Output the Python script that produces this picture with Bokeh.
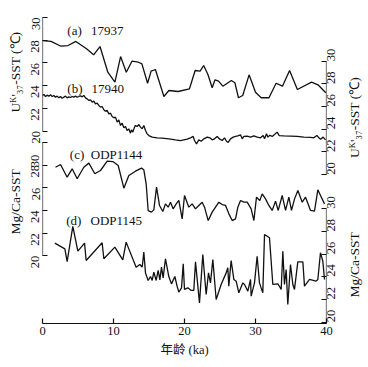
import math
from bokeh.plotting import figure
from bokeh.models import Range1d, LinearAxis, FixedTicker, Label, Whisker, ColumnDataSource
from bokeh.embed import file_html
from bokeh.resources import INLINE

# ---------------- data ----------------
AGE_A = [0.0, 1.2, 2.6, 3.6, 4.7, 6.2, 7.2, 8.1, 9.2, 10.2, 11.0, 11.8, 12.6, 13.5, 14.0,
         14.8, 15.3, 15.9, 17.1, 17.8, 19.1, 20.7, 21.5, 22.2, 22.7, 23.3, 23.9, 24.3, 24.8,
         25.4, 26.6, 27.1, 27.6, 28.2, 29.1, 30.0, 30.8, 31.9, 32.9, 33.8, 34.8, 35.9, 37.9,
         38.8, 39.9]
SST_A = [27.97, 27.9, 27.47, 27.53, 27.89, 27.24, 26.71, 27.44, 25.18, 24.3, 26.56, 25.18,
         26.15, 26.06, 25.92, 24.21, 25.27, 25.42, 23.04, 23.57, 23.48, 23.72, 25.33, 25.27,
         25.77, 24.98, 23.81, 24.51, 24.39, 23.95, 24.45, 24.25, 22.93, 23.13, 24.95, 23.42,
         22.93, 22.93, 24.21, 23.95, 25.33, 23.66, 24.3, 24.07, 23.37]

AGE_B = [0.0, 0.19, 0.42, 0.66, 0.89, 1.13, 1.36, 1.6, 1.83, 2.07, 2.3, 2.54, 2.77, 3.0, 3.24,
         3.47, 3.71, 3.94, 4.18, 4.41, 4.65, 4.88, 5.12, 5.35, 5.59, 5.82, 6.06, 6.29, 6.53,
         6.76, 6.99, 7.23, 7.46, 7.7, 7.93, 8.17, 8.4, 8.64, 8.87, 9.11, 9.34, 9.58, 9.81,
         10.05, 10.28, 10.52, 10.75, 10.99, 11.22, 11.46, 11.69, 11.92, 12.16, 12.39, 12.53,
         12.72, 12.96, 13.1, 13.33, 13.57, 13.8, 14.04, 14.27, 14.51, 14.74, 14.98, 15.45,
         16.15, 16.85, 17.79, 18.73, 19.44, 19.91, 20.38, 20.85, 21.22, 21.41, 21.69, 22.02,
         22.35, 22.73, 23.2, 23.57, 23.9, 24.23, 24.6, 24.98, 25.31, 25.64, 25.92, 26.15,
         26.48, 26.86, 27.19, 27.51, 27.89, 28.13, 28.36, 28.83, 29.3, 29.77, 30.24, 30.71,
         31.08, 31.27, 31.55, 31.74, 32.02, 32.35, 32.68, 33.05, 33.34, 33.99, 34.93, 35.87,
         36.81, 37.75, 38.22, 38.45, 38.69, 38.92, 39.16, 39.53, 39.86]
SST_B = [26.98, 27.07, 26.89, 27.01, 26.92, 27.04, 26.89, 26.98, 26.83, 26.92, 26.77, 26.89,
         26.74, 26.83, 26.92, 26.77, 26.86, 26.8, 26.89, 26.83, 26.92, 26.83, 26.89, 26.95,
         26.86, 26.98, 26.77, 26.68, 26.54, 26.6, 26.39, 26.48, 26.24, 26.3, 26.1, 25.95,
         26.01, 25.72, 25.6, 25.66, 25.36, 25.42, 25.13, 25.01, 25.07, 24.63, 24.83, 24.34,
         24.54, 24.13, 24.25, 23.89, 24.04, 23.66, 23.95, 23.75, 24.19, 24.34, 24.25, 24.42,
         24.19, 24.04, 24.34, 23.89, 23.6, 23.45, 23.31, 23.25, 23.22, 23.16, 23.07, 23.01,
         23.07, 23.13, 23.25, 23.37, 23.01, 22.72, 23.07, 22.95, 23.16, 23.31, 23.25, 23.07,
         23.16, 23.37, 23.13, 23.01, 23.25, 22.95, 22.84, 23.16, 23.31, 23.37, 23.42, 23.51,
         23.16, 23.37, 23.4, 23.31, 23.42, 23.31, 23.25, 23.45, 23.16, 23.6, 23.31, 23.48,
         23.37, 23.54, 23.75, 23.45, 23.42, 23.4, 23.37, 23.31, 23.28, 23.25, 23.37, 23.45,
         23.25, 23.13, 23.31, 23.07]

AGE_C = [1.83, 2.54, 3.47, 4.18, 4.88, 5.82, 6.53, 7.37, 8.17, 9.11, 9.91, 10.66, 11.46,
         12.16, 13.1, 13.94, 14.27, 14.6, 14.88, 15.35, 15.68, 16.06, 16.48, 16.95, 17.32,
         17.7, 18.03, 18.4, 18.83, 19.2, 19.67, 20.0, 20.61, 21.08, 21.55, 22.02, 22.49,
         22.82, 23.34, 23.9, 24.37, 24.84, 25.31, 25.78, 26.25, 26.72, 27.19, 27.51, 27.89,
         28.36, 28.83, 29.39, 29.77, 30.14, 30.61, 30.94, 31.41, 31.88, 32.35, 32.82, 33.2,
         33.76, 34.23, 34.7, 35.07, 35.5, 35.97, 36.58, 37.05, 37.75, 38.31, 38.78, 39.16,
         39.72]
SST_C = [27.81, 28.05, 26.93, 27.67, 26.79, 27.81, 28.17, 27.23, 27.52, 28.34, 28.31, 27.96,
         25.96, 27.08, 27.46, 27.73, 27.58, 26.35, 23.99, 23.85, 24.05, 26.05, 24.44, 23.91,
         24.58, 24.29, 24.73, 24.14, 24.58, 24.88, 23.26, 25.32, 24.29, 24.58, 24.14, 24.44,
         24.73, 24.29, 23.11, 23.85, 24.29, 24.73, 24.52, 24.44, 23.7, 23.11, 23.26, 24.29,
         24.88, 24.73, 24.73, 24.14, 23.11, 25.17, 24.88, 25.46, 25.02, 24.44, 24.0, 24.82,
         24.0, 25.32, 24.0, 25.17, 24.0, 25.02, 25.76, 24.73, 25.17, 24.0, 23.94, 25.82, 25.32,
         24.58]

AGE_D = [1.74, 3.15, 3.47, 4.27, 4.98, 5.92, 6.15, 8.4, 8.64, 10.19, 11.31, 11.78, 13.19,
         13.71, 14.04, 14.27, 14.51, 14.88, 15.21, 15.45, 15.68, 16.01, 16.29, 16.53, 16.76,
         16.99, 17.32, 17.79, 18.17, 18.64, 18.97, 19.2, 19.58, 19.82, 20.0, 20.47, 20.94,
         21.31, 21.55, 22.11, 22.58, 23.05, 23.38, 23.66, 23.99, 24.46, 25.16, 25.87, 26.1,
         26.24, 26.57, 26.95, 27.28, 27.65, 28.22, 28.45, 28.92, 29.3, 29.39, 29.86, 30.23,
         30.56, 31.03, 31.27, 31.97, 32.44, 33.15, 33.62, 33.85, 34.08, 34.32, 34.55, 34.93,
         35.26, 35.49, 35.96, 36.67, 36.9, 37.61, 38.54, 38.78, 39.15, 39.48, 39.72]
SST_D = [26.97, 26.47, 25.35, 28.44, 26.26, 26.97, 25.44, 27.0, 25.59, 26.62, 25.5, 27.06,
         24.85, 25.09, 24.85, 26.18, 24.33, 23.68, 24.03, 23.68, 24.41, 23.68, 24.56, 23.74,
         24.85, 23.91, 25.59, 24.03, 23.38, 24.03, 23.15, 22.65, 23.03, 25.15, 22.89, 23.03,
         22.8, 22.8, 25.32, 21.71, 25.97, 22.44, 24.35, 23.47, 25.53, 22.0, 23.33, 24.35, 24.8,
         23.18, 25.44, 23.77, 23.62, 22.59, 23.47, 23.33, 22.74, 23.77, 22.3, 23.47, 25.82,
         23.47, 22.59, 27.73, 27.44, 23.33, 23.39, 22.89, 26.26, 23.33, 24.65, 21.56, 25.09,
         23.33, 22.89, 25.32, 25.32, 23.18, 23.77, 23.62, 23.77, 26.12, 25.38, 23.77]

SERIES_NAMES = ["(a)\u2002\u200917937", "(b)\u2002\u200917940", "(c)\u2002ODP1144", "(d)\u2002\u2009ODP1145"]
X_TICKS = [0, 10, 20, 30, 40]
Y_TICKS = [20, 22, 24, 26, 28, 30]
X_TITLE = "年龄 (ka)"
UK_TITLE = "U\u1D37'\u2083\u2087-SST (\u2103)"
MG_TITLE = "Mg/Ca-SST"

# ---------------- layout ----------------
W, H = 366, 365
MB_L, MB_R, MB_T, MB_B = 42, 40, 12, 42
PX_PER_DEG = 11.35
TOP_GAP = 5.0
frame_h = H - MB_T - MB_B
a_hi = 30 + TOP_GAP / PX_PER_DEG
a_lo = a_hi - frame_h / PX_PER_DEG
OFF_B = 3.85
OFF_C = 11.0
OFF_D = OFF_B + 13.0

SERIF = "Liberation Serif"
INK = "#111111"

p = figure(width=W, height=H, x_range=Range1d(0, 40), y_range=Range1d(a_lo, a_hi),
           output_backend="svg", toolbar_location=None,
           min_border_left=MB_L, min_border_right=MB_R, min_border_top=MB_T, min_border_bottom=MB_B)
p.extra_y_ranges = {
    "b": Range1d(a_lo + OFF_B, a_hi + OFF_B),
    "c": Range1d(a_lo + OFF_C, a_hi + OFF_C),
    "d": Range1d(a_lo + OFF_D, a_hi + OFF_D),
}
p.outline_line_color = None
p.grid.visible = False
p.background_fill_color = "white"
p.border_fill_color = "white"

# series
for ages, vals, rng in [(AGE_A, SST_A, "default"), (AGE_B, SST_B, "b"),
                        (AGE_C, SST_C, "c"), (AGE_D, SST_D, "d")]:
    p.line(ages, vals, y_range_name=rng, line_color=INK, line_width=1.3)

def style_axis(ax):
    ax.major_tick_in = 5
    ax.major_tick_out = 0
    ax.minor_tick_line_color = None
    ax.major_tick_line_color = INK
    ax.major_tick_line_width = 1.2
    ax.axis_line_color = INK
    ax.axis_line_width = 1.2
    ax.major_label_text_font = SERIF
    ax.major_label_text_font_size = "12.5px"
    ax.major_label_text_color = INK

# x axis
xa = p.xaxis[0]
style_axis(xa)
xa.ticker = FixedTicker(ticks=X_TICKS)
xa.major_label_standoff = 3
xa.axis_label = X_TITLE
xa.axis_label_text_font = "Liberation Serif, Noto Sans CJK SC"
xa.axis_label_text_font_style = "normal"
xa.axis_label_text_font_size = "12.5px"
xa.axis_label_text_color = INK
xa.axis_label_standoff = 5

# left axis: (a) and (c)
la = p.yaxis[0]
style_axis(la)
la.axis_line_color = None
c_shift = OFF_C
la.ticker = FixedTicker(ticks=Y_TICKS + [t - c_shift for t in Y_TICKS])
left_labels = {t - c_shift: str(t) for t in Y_TICKS}
left_labels[max(Y_TICKS) - c_shift] = str(max(Y_TICKS)) + "\u2003"   # keep "30" clear of "20"
left_labels[min(Y_TICKS)] = "\u2002" + str(min(Y_TICKS))
la.major_label_overrides = left_labels
la.major_label_orientation = math.pi / 2
la.major_label_standoff = 7

# right axis: (b) and (d)
ra = LinearAxis(y_range_name="b")
style_axis(ra)
ra.axis_line_color = None
d_shift = OFF_D - OFF_B
ra.ticker = FixedTicker(ticks=Y_TICKS + [t - d_shift for t in Y_TICKS])
ra.major_label_overrides = {t - d_shift: str(t) for t in Y_TICKS}
ra.major_label_orientation = math.pi / 2
ra.major_label_standoff = 5
p.add_layout(ra, "right")

# axis spines per series
for base, rng in [(0, "default"), (0, "c"), (40, "b"), (40, "d")]:
    src = ColumnDataSource(dict(base=[base], lower=[min(Y_TICKS)], upper=[max(Y_TICKS)]))
    w = Whisker(source=src, base="base", lower="lower", upper="upper", dimension="height",
                y_range_name=rng, line_color=INK, line_width=1.2,
                lower_head=None, upper_head=None)
    p.add_layout(w)

# series labels
for txt, x, y, rng in [(SERIES_NAMES[0], 3.5, 28.85, "default"), (SERIES_NAMES[1], 3.5, 27.6, "b"),
                       (SERIES_NAMES[2], 3.85, 28.9, "c"), (SERIES_NAMES[3], 3.35, 28.95, "d")]:
    p.add_layout(Label(x=x, y=y, y_range_name=rng, text=txt, text_font=SERIF,
                       text_font_size="13px", text_color=INK, text_baseline="alphabetic",
                       text_align="left"))

# axis titles: one text per side panel, read bottom-to-top
LEFT_TITLE = MG_TITLE + "\u2003" * 4 + "\u2009" + UK_TITLE
RIGHT_TITLE = MG_TITLE + "\u2003" * 5 + "\u2002" + UK_TITLE
for txt, x, y, rng, side in [(LEFT_TITLE, -3.8, 21.88, "c", "left"),
                             (RIGHT_TITLE, 44.0, 22.18, "d", "right")]:
    p.add_layout(Label(x=x, y=y, y_range_name=rng, text=txt, angle=math.pi / 2,
                       text_font=SERIF, text_font_size="13.5px", text_color=INK,
                       text_align="left", text_baseline="middle"), side)

open("out.html", "w").write(file_html(p, INLINE))
